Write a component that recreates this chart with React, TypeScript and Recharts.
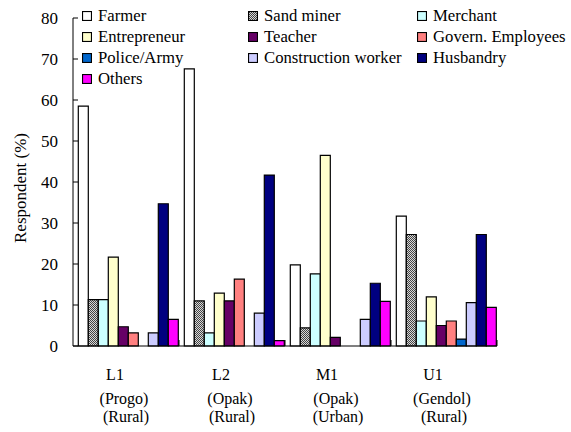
import React from 'react';
import { BarChart, Bar, XAxis, YAxis, Label } from 'recharts';

const categories = ['L1', 'L2', 'M1', 'U1'];
const rivers = ['(Progo)', '(Opak)', '(Opak)', '(Gendol)'];
const areas = ['(Rural)', '(Rural)', '(Urban)', '(Rural)'];

const farmer = [58.5, 67.6, 19.8, 31.7];
const sandMiner = [11.3, 11.0, 4.4, 27.2];
const merchant = [11.3, 3.2, 17.6, 6.1];
const entrepreneur = [21.7, 12.9, 46.5, 12.0];
const teacher = [4.7, 11.0, 2.1, 5.0];
const governEmployees = [3.2, 16.3, 0, 6.1];
const policeArmy = [0, 0, 0, 1.7];
const construction = [3.2, 8.0, 6.5, 10.6];
const husbandry = [34.7, 41.7, 15.3, 27.2];
const others = [6.5, 1.3, 10.9, 9.4];

const yTicks = [0, 10, 20, 30, 40, 50, 60, 70, 80];

const series = [
  { key: 'farmer', name: 'Farmer', values: farmer, fill: '#FFFFFF' },
  { key: 'sand', name: 'Sand miner', values: sandMiner, fill: 'url(#dither)' },
  { key: 'merchant', name: 'Merchant', values: merchant, fill: '#CCFFFF' },
  { key: 'entre', name: 'Entrepreneur', values: entrepreneur, fill: '#FFFFCC' },
  { key: 'teacher', name: 'Teacher', values: teacher, fill: '#660066' },
  { key: 'govern', name: 'Govern. Employees', values: governEmployees, fill: '#FF8080' },
  { key: 'police', name: 'Police/Army', values: policeArmy, fill: '#0066CC' },
  { key: 'constr', name: 'Construction worker', values: construction, fill: '#CCCCFF' },
  { key: 'husb', name: 'Husbandry', values: husbandry, fill: '#000080' },
  { key: 'others', name: 'Others', values: others, fill: '#FF00FF' },
];

const data = categories.map((c, i) => {
  const row: Record<string, any> = { cat: c, river: rivers[i], area: areas[i] };
  series.forEach((s) => {
    row[s.key] = s.values[i];
  });
  return row;
});

const FONT = "'Liberation Serif', 'DejaVu Serif', serif";
const FS = 17;
const W = 571;
const H = 432;
const M = { top: 18, right: 74, bottom: 6, left: 13 };
const Y_W = 60;
const BAND = (W - M.left - Y_W - M.right) / categories.length;

const CatTick = (props: any) => {
  const { x, y, payload } = props;
  const i = payload.index;
  return (
    <g style={{ fontFamily: FONT }}>
      <line x1={x + BAND / 2} x2={x + BAND / 2} y1={y} y2={y - 6} stroke="#000" />
      <text x={x - 11} y={y + 34} textAnchor="middle" fontSize={16} fill="#000">
        {categories[i]}
      </text>
      <text x={x - 2} y={y + 58} textAnchor="middle" fontSize={16} fill="#000">
        {rivers[i]}
      </text>
      <text x={x} y={y + 76} textAnchor="middle" fontSize={16} fill="#000">
        {areas[i]}
      </text>
    </g>
  );
};

const LegendBox = () => (
  <div
    style={{
      position: 'absolute',
      left: 82,
      top: 5,
      display: 'grid',
      gridTemplateColumns: '166px 169px auto',
      fontFamily: FONT,
      fontSize: 16.7,
      lineHeight: '21px',
      color: '#000',
      whiteSpace: 'nowrap',
    }}
  >
    {series.map((s) => (
      <div key={s.key} style={{ display: 'flex', alignItems: 'center' }}>
        <svg width={10} height={10} style={{ marginRight: 6 }}>
          <defs>
            <pattern id={`lg-${s.key}`} width={2} height={2} patternUnits="userSpaceOnUse">
              <rect width={2} height={2} fill="#d8d8d8" />
              <rect width={1} height={1} fill="#444" />
              <rect x={1} y={1} width={1} height={1} fill="#444" />
            </pattern>
          </defs>
          <rect
            x={0.5}
            y={0.5}
            width={9}
            height={9}
            fill={s.key === 'sand' ? `url(#lg-${s.key})` : s.fill}
            stroke="#000"
            strokeWidth={1.2}
          />
        </svg>
        <span>{s.name}</span>
      </div>
    ))}
  </div>
);

export default function App() {
  return (
    <div
      style={{
        position: 'absolute',
        left: 0,
        top: 0,
        width: W,
        height: H,
        background: '#fff',
        fontFamily: FONT,
        overflow: 'hidden',
      }}
    >
      <BarChart
        width={W}
        height={H}
        data={data}
        margin={M}
        barCategoryGap="5%"
        barGap={0}
        style={{ fontFamily: FONT }}
      >
        <defs>
          <pattern id="dither" width={2} height={2} patternUnits="userSpaceOnUse">
            <rect width={2} height={2} fill="#d8d8d8" />
            <rect width={1} height={1} fill="#444" />
            <rect x={1} y={1} width={1} height={1} fill="#444" />
          </pattern>
        </defs>
        <XAxis
          dataKey="cat"
          height={80}
          axisLine={{ stroke: '#000' }}
          tickLine={false}
          tickSize={0}
          tickMargin={0}
          tick={<CatTick />}
          interval={0}
        />
        <YAxis
          width={Y_W}
          domain={[0, 80]}
          ticks={yTicks}
          interval={0}
          axisLine={{ stroke: '#000' }}
          tickLine={{ stroke: '#000' }}
          tickSize={-5}
          tickMargin={20}
          tick={{ fill: '#000', fontSize: FS, fontFamily: FONT }}
        >
          <Label
            content={() => (
              <text
                x={20}
                y={188}
                transform="rotate(-90 20 188)"
                textAnchor="middle"
                dominantBaseline="central"
                fontSize={FS}
                fill="#000"
                style={{ fontFamily: FONT }}
              >
                Respondent (%)
              </text>
            )}
          />
        </YAxis>
        {series.map((s) => (
          <Bar
            key={s.key}
            dataKey={s.key}
            name={s.name}
            fill={s.fill}
            stroke="#000"
            strokeWidth={1.2}
            isAnimationActive={false}
          />
        ))}
      </BarChart>
      <LegendBox />
    </div>
  );
}
